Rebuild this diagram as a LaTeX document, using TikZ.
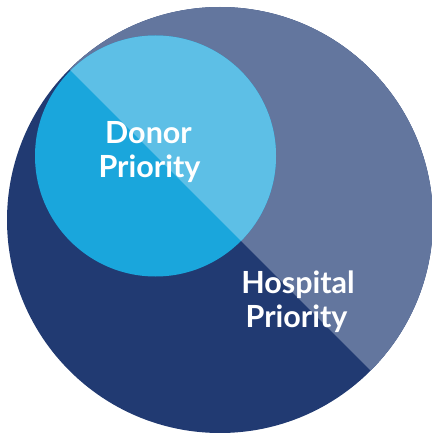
\documentclass[tikz,border=0pt]{standalone}
\usepackage{fontspec}
\setmainfont{Lato}
\definecolor{navy}{HTML}{213A72}
\definecolor{slate}{HTML}{63769E}
\definecolor{skyblue}{HTML}{5DBFE6}
\definecolor{brightblue}{HTML}{1AA6DC}
\tikzset{
  label text/.style={text=white, font=\fontsize{30.5}{35}\selectfont\bfseries, inner sep=0pt, anchor=base}
}
\begin{document}
\begin{tikzpicture}[x=1pt,y=-1pt]
\useasboundingbox (0,0) rectangle (431,433);
% large circle
\begin{scope}
  \clip (220,220) circle (213pt);
  \fill[navy] (0,0) rectangle (440,440);
  \fill[slate] (-100,-100) -- (600,600) -- (600,-100) -- cycle;
\end{scope}
% small circle
\begin{scope}
  \clip (155.5,156) circle (120.5pt);
  \fill[brightblue] (0,0) rectangle (440,440);
  \fill[skyblue] (-100,-100) -- (600,600) -- (600,-100) -- cycle;
\end{scope}
\node[label text] (donor1) at (148.5,143) {Donor};
\node[label text] (donor2) at (149.5,177) {Priority};
\node[label text] (hospital1) at (298,293) {Hospital};
\node[label text] (hospital2) at (296.5,327) {Priority};
\end{tikzpicture}
\end{document}
